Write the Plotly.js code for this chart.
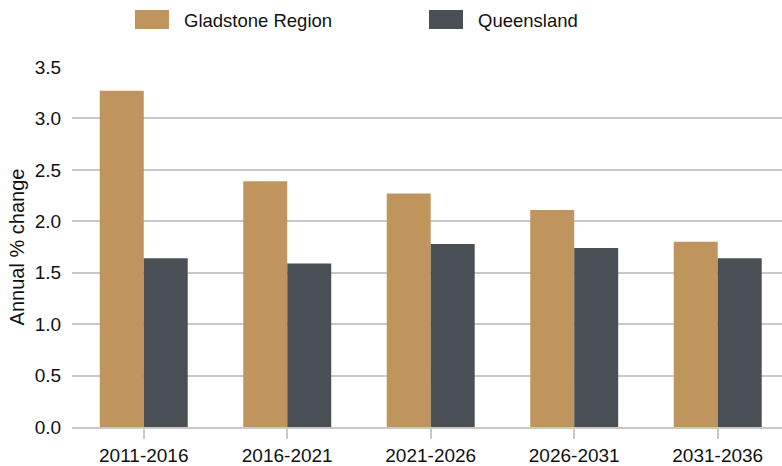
<!DOCTYPE html>
<html>
<head>
<meta charset="utf-8">
<script src="https://cdn.plot.ly/plotly-3.0.1.min.js"></script>
<style>
  html, body { margin: 0; padding: 0; background: #fff; }
  #chart { width: 782px; height: 466px; }
</style>
</head>
<body>
<div id="chart"></div>
<script>
var periods = ['2011-2016', '2016-2021', '2021-2026', '2026-2031', '2031-2036'];
var gladstone = [3.27, 2.39, 2.27, 2.11, 1.80];
var queensland = [1.64, 1.59, 1.78, 1.74, 1.64];
var seriesNames = ['Gladstone Region', 'Queensland'];
var seriesColors = ['#bf955d', '#4a4f56'];

var font = 'Liberation Sans, Arial, sans-serif';

var gladstoneTrace = {
  x: periods,
  y: gladstone,
  type: 'bar',
  name: seriesNames[0],
  marker: { color: seriesColors[0] },
  showlegend: false,
  hoverinfo: 'x+y+name'
};

var queenslandTrace = {
  x: periods,
  y: queensland,
  type: 'bar',
  name: seriesNames[1],
  marker: { color: seriesColors[1] },
  showlegend: false,
  hoverinfo: 'x+y+name'
};

// hand-made legend: wide swatches above the plot
var swatchX = [[0.0887, 0.1366], [0.5028, 0.5507]];
var shapes = [];
var annotations = [];
for (var i = 0; i < seriesNames.length; i++) {
  shapes.push({
    type: 'rect', xref: 'paper', yref: 'paper',
    x0: swatchX[i][0], x1: swatchX[i][1], y0: 1.1056, y1: 1.1583,
    fillcolor: seriesColors[i], line: { width: 0 }
  });
  annotations.push({
    xref: 'paper', yref: 'paper',
    x: swatchX[i][1] + 0.0183, y: 1.1278,
    xanchor: 'left', yanchor: 'middle',
    text: seriesNames[i], showarrow: false,
    font: { family: font, size: 18.5, color: '#111' }
  });
}

var layout = {
  width: 782,
  height: 466,
  margin: { l: 72, r: 0, t: 67, b: 39 },
  paper_bgcolor: '#fff',
  plot_bgcolor: '#fff',
  barmode: 'group',
  bargap: 0.387,
  bargroupgap: 0,
  font: { family: font, size: 19, color: '#111' },
  xaxis: {
    type: 'category',
    range: [-0.5, 4.448],
    showgrid: false,
    showline: true,
    linecolor: '#c8c8c8',
    linewidth: 2,
    ticks: 'outside',
    ticklen: 10,
    tickwidth: 2,
    tickcolor: '#c8c8c8',
    tickfont: { family: font, size: 19, color: '#111' }
  },
  yaxis: {
    range: [0, 3.5],
    dtick: 0.5,
    tickformat: '.1f',
    showgrid: true,
    gridcolor: '#c8c8c8',
    gridwidth: 2,
    zeroline: false,
    showline: false,
    ticks: 'outside',
    ticklen: 6,
    tickcolor: 'rgba(0,0,0,0)',
    tickfont: { family: font, size: 19, color: '#111' },
    title: { text: 'Annual % change', font: { family: font, size: 20, color: '#111' }, standoff: 4 }
  },
  shapes: shapes,
  annotations: annotations
};

Plotly.newPlot('chart', [gladstoneTrace, queenslandTrace], layout, { displayModeBar: false, staticPlot: true });
</script>
</body>
</html>
